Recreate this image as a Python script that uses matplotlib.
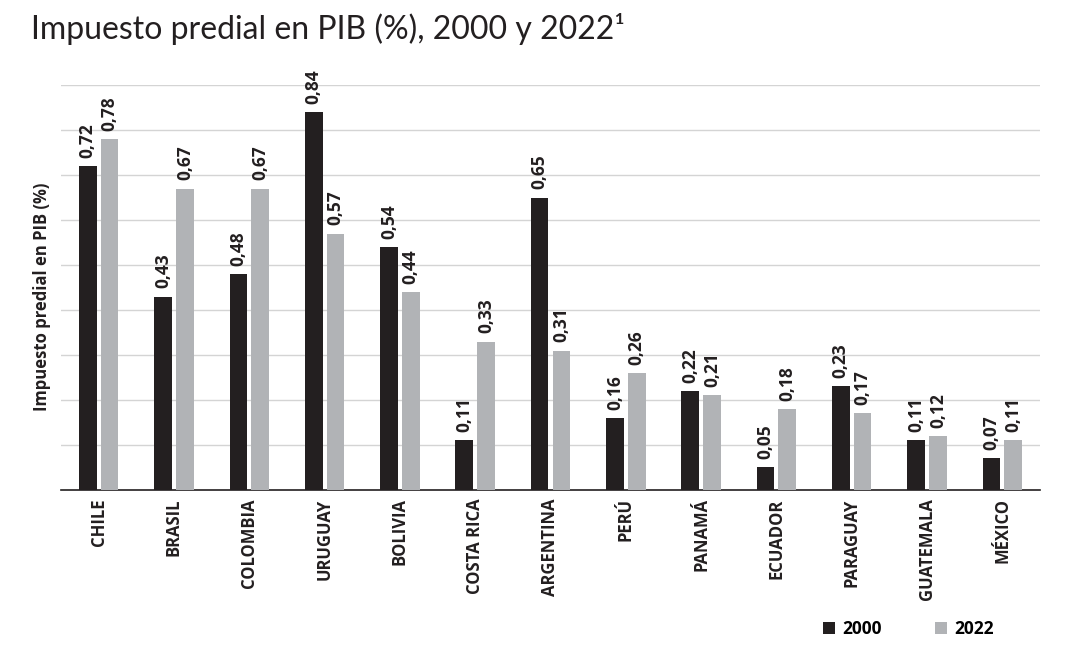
import numpy as np
import matplotlib.pyplot as plt

paises = ["CHILE", "BRASIL", "COLOMBIA", "URUGUAY", "BOLIVIA", "COSTA RICA", "ARGENTINA",
          "PERÚ", "PANAMÁ", "ECUADOR", "PARAGUAY", "GUATEMALA", "MÉXICO"]
v2000 = [0.72, 0.43, 0.48, 0.84, 0.54, 0.11, 0.65, 0.16, 0.22, 0.05, 0.23, 0.11, 0.07]
v2022 = [0.78, 0.67, 0.67, 0.57, 0.44, 0.33, 0.31, 0.26, 0.21, 0.18, 0.17, 0.12, 0.11]

oscuro = "#231f20"
gris = "#b1b3b6"

plt.rcParams['font.family'] = ['Open Sans', 'DejaVu Sans']

fig = plt.figure(figsize=(10.71, 6.55), dpi=100)
ax = fig.add_axes([0.057, 0.252, 0.914, 0.618])

x = np.arange(len(paises))
w = 0.235
off = 0.145
b1 = ax.bar(x - off, v2000, w, color=oscuro, label="2000", zorder=3)
b2 = ax.bar(x + off, v2022, w, color=gris, label="2022", zorder=3)

for barras in (b1, b2):
    for r in barras:
        val = r.get_height()
        ax.annotate(f"{val:.2f}".replace(".", ","),
                    (r.get_x() + r.get_width() / 2, val),
                    xytext=(0, 6), textcoords="offset points",
                    rotation=90, ha="center", va="bottom",
                    fontsize=12.5, fontweight="bold", color=oscuro)

ax.set_xlim(-0.5, 12.5)
ax.set_ylim(0, 0.9)
ax.set_yticks(np.arange(0.1, 0.91, 0.1))
ax.yaxis.grid(True, color="#d4d4d4", linewidth=1, zorder=0)
ax.tick_params(axis="y", length=0, labelleft=False)
ax.set_xticks(x)
ax.set_xticklabels(paises, rotation=90, fontsize=12, fontweight="bold", color=oscuro)
ax.tick_params(axis="x", length=0, pad=6)
for s in ["top", "right", "left"]:
    ax.spines[s].set_visible(False)
ax.spines["bottom"].set_color(oscuro)
ax.spines["bottom"].set_linewidth(1.2)

fig.text(0.039, 0.547, "Impuesto predial en PIB (%)", rotation=90, ha="center", va="center",
         fontsize=12, fontweight="bold", color=oscuro)

fig.text(0.029, 0.955, "Impuesto predial en PIB (%), 2000 y 2022¹", fontsize=23,
         family=['Lato', 'DejaVu Sans'], color=oscuro, va="center", ha="left")

fig.legend(handles=[b1, b2], labels=["2000", "2022"], loc="center",
           bbox_to_anchor=(0.848, 0.04), ncol=2, frameon=False,
           prop={"weight": "bold", "size": 12.5}, handlelength=0.7, handleheight=0.7,
           columnspacing=3.1, handletextpad=0.4)

fig.savefig("out.png", dpi=100)
